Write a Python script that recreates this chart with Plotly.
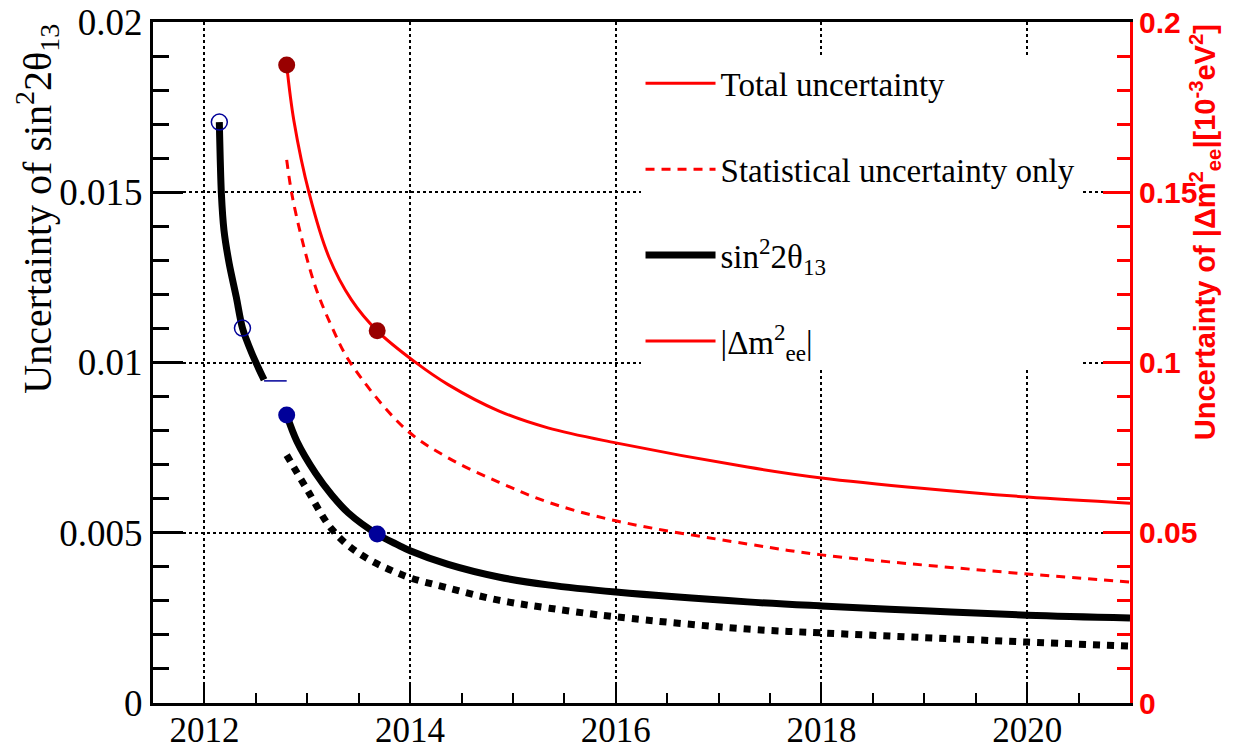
import plotly.graph_objects as go

# sin^2(2theta13) uncertainty, early phase (open circles, thick black)
early_years = [2012.145, 2012.165, 2012.19, 2012.24, 2012.31, 2012.37, 2012.46, 2012.58]
early_sin = [0.01706, 0.01495, 0.01389, 0.01292, 0.01192, 0.01101, 0.01028, 0.00949]
early_pts_years = [2012.145, 2012.37]
early_pts_sin = [0.01706, 0.01101]
# short blue step between the two phases
gap_years = [2012.58, 2012.80]
gap_sin = [0.00946, 0.00946]

# sin^2(2theta13), total uncertainty projection
tot_years = [2012.80, 2012.90, 2013.08, 2013.24, 2013.40, 2013.68, 2013.89, 2014.0, 2014.37,
             2014.86, 2015.34, 2016.0, 2017.28, 2018.0, 2019.0, 2020.0, 2021.0]
tot_sin = [0.00846, 0.00768, 0.00675, 0.00610, 0.00558, 0.00496, 0.00463, 0.00447, 0.00407,
           0.00370, 0.00347, 0.00326, 0.00297, 0.00285, 0.00271, 0.00258, 0.00250]
# sin^2(2theta13), statistical only
stat_years = [2012.80, 2013.0, 2013.24, 2013.5, 2013.95, 2014.37, 2014.86, 2015.34, 2016.0,
              2017.28, 2018.0, 2019.0, 2020.0, 2021.0]
stat_sin = [0.00728, 0.00626, 0.00510, 0.00440, 0.00373, 0.00338, 0.00302, 0.00279, 0.00253,
            0.00217, 0.00206, 0.00192, 0.00179, 0.00167]
sin_pts_years = [2012.80, 2013.68]
sin_pts = [0.00846, 0.00496]

# |dm2_ee| (10^-3 eV^2), right axis
dm_tot_years = [2012.80, 2012.87, 2013.02, 2013.21, 2013.43, 2013.68, 2014.05, 2014.37,
                2014.86, 2015.34, 2016.0, 2017.28, 2018.0, 2019.0, 2020.0, 2021.0]
dm_tot = [0.1874, 0.1710, 0.1495, 0.1310, 0.1184, 0.1093, 0.1001, 0.0935,
          0.0858, 0.0808, 0.0764, 0.0693, 0.0661, 0.0630, 0.0605, 0.0587]
dm_stat_years = [2012.80, 2012.85, 2012.95, 2013.08, 2013.24, 2013.42, 2013.95, 2014.37,
                 2014.86, 2015.34, 2016.0, 2017.28, 2018.0, 2019.0, 2020.0, 2021.0]
dm_stat = [0.1595, 0.1495, 0.1360, 0.1222, 0.1104, 0.0999, 0.0806, 0.0720,
           0.0649, 0.0590, 0.0535, 0.0467, 0.0435, 0.0405, 0.0379, 0.0355]
dm_pts_years = [2012.80, 2013.68]
dm_pts = [0.1874, 0.1093]

serif = "Liberation Serif"
sans = "Liberation Sans"
navy = "rgb(0,0,153)"
darkred = "rgb(153,0,0)"

fig = go.Figure()
# red curves on the right axis
fig.add_trace(go.Scatter(x=dm_tot_years, y=dm_tot, mode="lines", yaxis="y2",
                         line=dict(color="red", width=3, shape="spline", smoothing=1.0),
                         name="Total uncertainty", legendgroup="a", legendrank=1))
fig.add_trace(go.Scatter(x=dm_stat_years, y=dm_stat, mode="lines", yaxis="y2",
                         line=dict(color="red", width=3, dash="9px,7px", shape="spline", smoothing=1.0),
                         name="Statistical uncertainty only", legendgroup="b", legendrank=2))
fig.add_trace(go.Scatter(x=dm_pts_years, y=dm_pts, mode="markers", yaxis="y2",
                         marker=dict(color=darkred, size=17), showlegend=False))
# black curves on the left axis
fig.add_trace(go.Scatter(x=early_years, y=early_sin, mode="lines",
                         line=dict(color="black", width=7, shape="spline", smoothing=0.8),
                         showlegend=False))
fig.add_trace(go.Scatter(x=gap_years, y=gap_sin, mode="lines",
                         line=dict(color=navy, width=1.5), showlegend=False))
fig.add_trace(go.Scatter(x=early_pts_years, y=early_pts_sin, mode="markers",
                         marker=dict(symbol="circle-open", color=navy, size=16,
                                     line=dict(width=1.5, color=navy)),
                         showlegend=False))
fig.add_trace(go.Scatter(x=stat_years, y=stat_sin, mode="lines",
                         line=dict(color="black", width=7, dash="dot", shape="spline", smoothing=1.0),
                         showlegend=False))
fig.add_trace(go.Scatter(x=tot_years, y=tot_sin, mode="lines",
                         line=dict(color="black", width=7, shape="spline", smoothing=1.0),
                         name="sin<sup>2</sup>2θ<sub>13</sub>", legendgroup="c", legendrank=3))
fig.add_trace(go.Scatter(x=sin_pts_years, y=sin_pts, mode="markers",
                         marker=dict(color=navy, size=17), showlegend=False))
# legend-only entry for |dm2_ee|
fig.add_trace(go.Scatter(x=[None], y=[None], mode="lines", yaxis="y2",
                         line=dict(color="red", width=3),
                         name="|Δm<sup>2</sup><sub>ee</sub>|", legendgroup="d", legendrank=4))

# the page body adds an 8px offset, so the figure is 8px smaller on each side
fig.update_layout(
    width=1225, height=744,
    margin=dict(l=145, r=103, t=14, b=49, autoexpand=False),
    paper_bgcolor="white", plot_bgcolor="white",
    font=dict(family=serif, color="black"),
    xaxis=dict(range=[2011.5, 2021.0], tickvals=[2012, 2014, 2016, 2018, 2020],
               ticks="inside", ticklen=20, tickwidth=2, tickcolor="black",
               minor=dict(ticks="inside", ticklen=10, dtick=0.5, tick0=2012, tickcolor="black", tickwidth=2),
               showline=True, linecolor="black", linewidth=3, mirror=True,
               showgrid=True, gridcolor="black", gridwidth=2, griddash="dot",
               tickfont=dict(family=serif, size=35), ticklabeloverflow="allow",
               ticklabelstandoff=-6, zeroline=False),
    yaxis=dict(range=[0, 0.02], tickvals=[0, 0.005, 0.01, 0.015, 0.02],
               ticktext=["0", "0.005", "0.01", "0.015", "0.02"],
               ticks="inside", ticklen=30, tickwidth=3, tickcolor="black",
               minor=dict(ticks="inside", ticklen=16, dtick=0.001, tickcolor="black", tickwidth=3),
               showline=True, linecolor="black", linewidth=3,
               showgrid=True, gridcolor="black", gridwidth=2, griddash="dot",
               tickfont=dict(family=serif, size=37), ticklabeloverflow="allow", zeroline=False),
    yaxis2=dict(range=[0, 0.2], overlaying="y", side="right",
                tickvals=[0, 0.05, 0.1, 0.15, 0.2], ticktext=["0", "0.05", "0.1", "0.15", "0.2"],
                ticks="inside", ticklen=27, tickwidth=3, tickcolor="red",
                minor=dict(ticks="inside", ticklen=13, dtick=0.01, tickcolor="red", tickwidth=3),
                showline=True, linecolor="red", linewidth=3, showgrid=False, zeroline=False,
                ticklabeloverflow="allow",
                tickfont=dict(family=sans, size=30, color="red", weight="bold")),
    legend=dict(x=0.499, y=0.951, xanchor="left", yanchor="top", bgcolor="white",
                itemwidth=70,
                font=dict(family=serif, size=33), tracegroupgap=40, traceorder="grouped"),
    annotations=[
        dict(text="Uncertainty of sin<sup>2</sup>2θ<sub>13</sub>", xref="paper", yref="paper",
             x=-0.119, y=1.0, xanchor="center", yanchor="top", textangle=-90, showarrow=False,
             font=dict(family=serif, size=40)),
        dict(text="Uncertainty of |Δm<sup>2</sup><sub>ee</sub>|[10<sup>-3</sup>eV<sup>2</sup>]",
             xref="paper", yref="paper", x=1.077, y=1.0, xanchor="center", yanchor="top",
             textangle=-90, showarrow=False,
             font=dict(family=sans, size=29, color="red", weight="bold")),
    ],
)

fig.write_html("out.html")
